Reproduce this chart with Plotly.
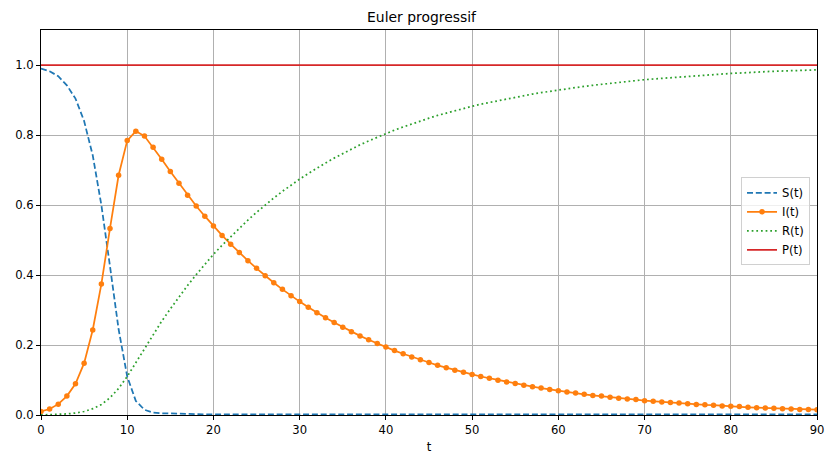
import plotly.graph_objects as go

t = [0, 1, 2, 3, 4, 5, 6, 7, 8, 9,
     10, 11, 12, 13, 14, 15, 16, 17, 18, 19,
     20, 21, 22, 23, 24, 25, 26, 27, 28, 29,
     30, 31, 32, 33, 34, 35, 36, 37, 38, 39,
     40, 41, 42, 43, 44, 45, 46, 47, 48, 49,
     50, 51, 52, 53, 54, 55, 56, 57, 58, 59,
     60, 61, 62, 63, 64, 65, 66, 67, 68, 69,
     70, 71, 72, 73, 74, 75, 76, 77, 78, 79,
     80, 81, 82, 83, 84, 85, 86, 87, 88, 89, 90]

S = [0.990, 0.982, 0.968, 0.942, 0.904, 0.840, 0.742, 0.600, 0.425, 0.245,
     0.110, 0.040, 0.015, 0.007, 0.005, 0.004, 0.003, 0.002, 0.002, 0.002,
     0.002, 0.002, 0.002, 0.002, 0.002, 0.002, 0.002, 0.002, 0.002, 0.002,
     0.002, 0.002, 0.002, 0.002, 0.002, 0.002, 0.002, 0.002, 0.002, 0.002,
     0.002, 0.002, 0.002, 0.002, 0.002, 0.002, 0.002, 0.002, 0.002, 0.002,
     0.002, 0.002, 0.002, 0.002, 0.002, 0.002, 0.002, 0.002, 0.002, 0.002,
     0.002, 0.002, 0.002, 0.002, 0.002, 0.002, 0.002, 0.002, 0.002, 0.002,
     0.002, 0.002, 0.002, 0.002, 0.002, 0.002, 0.002, 0.002, 0.002, 0.002,
     0.002, 0.002, 0.002, 0.002, 0.002, 0.002, 0.002, 0.002, 0.002, 0.002, 0.002]

I = [0.010, 0.017, 0.031, 0.054, 0.089, 0.148, 0.243, 0.374, 0.533, 0.685,
     0.784, 0.811, 0.797, 0.765, 0.731, 0.696, 0.662, 0.628, 0.597, 0.568,
     0.540, 0.513, 0.488, 0.464, 0.441, 0.419, 0.398, 0.378, 0.359, 0.341,
     0.324, 0.308, 0.292, 0.278, 0.264, 0.251, 0.238, 0.226, 0.215, 0.204,
     0.194, 0.184, 0.175, 0.166, 0.158, 0.150, 0.142, 0.135, 0.128, 0.122,
     0.116, 0.110, 0.105, 0.099, 0.094, 0.090, 0.085, 0.081, 0.077, 0.073,
     0.069, 0.066, 0.063, 0.059, 0.056, 0.054, 0.051, 0.048, 0.046, 0.044,
     0.041, 0.039, 0.037, 0.036, 0.034, 0.032, 0.030, 0.029, 0.028, 0.026,
     0.025, 0.024, 0.022, 0.021, 0.020, 0.019, 0.018, 0.017, 0.016, 0.016, 0.015]

R = [0.000, 0.0005, 0.0014, 0.003, 0.0057, 0.010, 0.018, 0.030, 0.049, 0.076,
     0.110, 0.149, 0.190, 0.230, 0.268, 0.303, 0.337, 0.370, 0.401, 0.431,
     0.459, 0.485, 0.510, 0.534, 0.557, 0.579, 0.600, 0.620, 0.639, 0.657,
     0.674, 0.690, 0.706, 0.720, 0.734, 0.747, 0.760, 0.772, 0.783, 0.794,
     0.804, 0.814, 0.823, 0.832, 0.840, 0.848, 0.856, 0.863, 0.870, 0.876,
     0.882, 0.888, 0.893, 0.899, 0.904, 0.908, 0.913, 0.917, 0.921, 0.925,
     0.929, 0.932, 0.935, 0.939, 0.942, 0.945, 0.948, 0.951, 0.953, 0.956,
     0.958, 0.960, 0.962, 0.964, 0.966, 0.968, 0.970, 0.972, 0.973, 0.975,
     0.976, 0.977, 0.979, 0.980, 0.981, 0.982, 0.983, 0.984, 0.985, 0.985, 0.986]

P = [1.0, 1.0, 1.0, 1.0, 1.0, 1.0, 1.0, 1.0, 1.0, 1.0,
     1.0, 1.0, 1.0, 1.0, 1.0, 1.0, 1.0, 1.0, 1.0, 1.0,
     1.0, 1.0, 1.0, 1.0, 1.0, 1.0, 1.0, 1.0, 1.0, 1.0,
     1.0, 1.0, 1.0, 1.0, 1.0, 1.0, 1.0, 1.0, 1.0, 1.0,
     1.0, 1.0, 1.0, 1.0, 1.0, 1.0, 1.0, 1.0, 1.0, 1.0,
     1.0, 1.0, 1.0, 1.0, 1.0, 1.0, 1.0, 1.0, 1.0, 1.0,
     1.0, 1.0, 1.0, 1.0, 1.0, 1.0, 1.0, 1.0, 1.0, 1.0,
     1.0, 1.0, 1.0, 1.0, 1.0, 1.0, 1.0, 1.0, 1.0, 1.0,
     1.0, 1.0, 1.0, 1.0, 1.0, 1.0, 1.0, 1.0, 1.0, 1.0, 1.0]

x_ticks = [0, 10, 20, 30, 40, 50, 60, 70, 80, 90]
y_ticks = [0.0, 0.2, 0.4, 0.6, 0.8, 1.0]

FONT = "DejaVu Sans"
LW = 1.75
# the page body has an 8px margin, so the figure is drawn 8px smaller
W, H = 827, 460

fig = go.Figure()
fig.add_trace(go.Scatter(x=t, y=S, name="S(t)", mode="lines",
                         line=dict(color="#1f77b4", width=LW, dash="6px,2.8px")))
fig.add_trace(go.Scatter(x=t, y=I, name="I(t)", mode="lines+markers",
                         line=dict(color="#ff7f0e", width=LW),
                         marker=dict(color="#ff7f0e", size=5.5, line=dict(width=0))))
fig.add_trace(go.Scatter(x=t, y=R, name="R(t)", mode="lines",
                         line=dict(color="#2ca02c", width=LW, dash="1.75px,2.9px")))
fig.add_trace(go.Scatter(x=t, y=P, name="P(t)", mode="lines",
                         line=dict(color="#d62728", width=LW)))

axis_common = dict(
    showline=True, linecolor="black", linewidth=1, mirror=True,
    showgrid=True, gridcolor="#b0b0b0", gridwidth=0.9,
    ticks="outside", ticklen=4, tickwidth=1, tickcolor="black",
    zeroline=False, automargin=False,
    tickfont=dict(family=FONT, size=11.6, color="black"),
)

fig.update_xaxes(range=[0, 90], tickvals=x_ticks,
                 title=dict(text="t", font=dict(family=FONT, size=11.6, color="black"), standoff=6),
                 **axis_common)
fig.update_yaxes(range=[0, 1.1], tickvals=y_ticks, tickformat=".1f", **axis_common)

fig.update_layout(
    width=W, height=H,
    margin=dict(l=33, r=18, t=22, b=53),
    paper_bgcolor="white", plot_bgcolor="white",
    font=dict(family=FONT, size=11.6, color="black"),
    title=dict(text="Euler progressif", x=0.5, xanchor="center",
               y=(H - 9) / H, yanchor="middle", yref="container",
               font=dict(family=FONT, size=13.9, color="black")),
    legend=dict(x=0.991, xanchor="right", y=0.503, yanchor="middle",
                bgcolor="rgba(255,255,255,0.8)", bordercolor="#d0d0d0", borderwidth=1,
                font=dict(family=FONT, size=11.6, color="black"),
                itemwidth=30, tracegroupgap=0),
    showlegend=True,
)

fig.write_html("out.html")
